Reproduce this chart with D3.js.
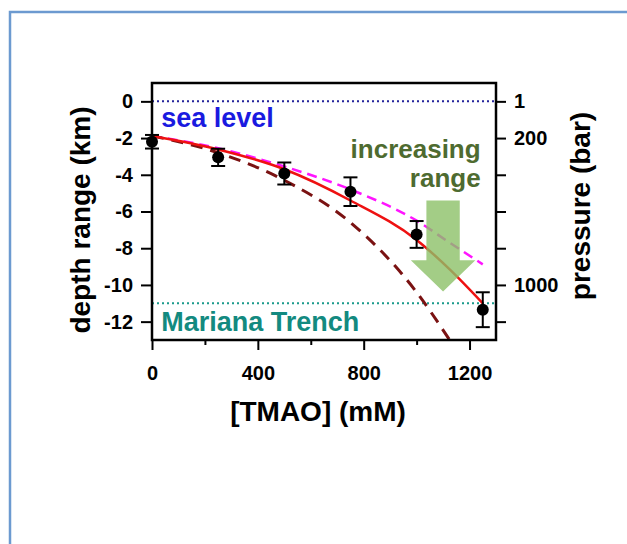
<!DOCTYPE html>
<meta charset="utf-8">
<style>
  body { margin: 0; background: #fff; }
  svg text { font-family: "Liberation Sans", Arial, Helvetica, sans-serif; font-weight: bold; }
  .axis path.domain { display: none; }
  .axis line { stroke: #000; stroke-width: 2px; }
  .axis text { font-size: 20px; fill: #000; }
</style>
<svg width="627" height="544"></svg>
<script src="https://d3js.org/d3.v7.min.js"></script>
<script>
  // measured points (mean +/- error)
  var tmao = [0, 250, 500, 750, 1000, 1250];
  var depthMean = [-2.2, -3.05, -3.93, -4.92, -7.25, -11.35];
  var depthErr = [0.37, 0.47, 0.6, 0.78, 0.73, 0.95];

  // fitted curves
  var fitX = [0, 250, 500, 750, 1000, 1125, 1250];
  var fitRed = [-1.89, -2.62, -3.7, -5.4, -7.55, -9.15, -11.0];
  var fitMagenta = [-1.88, -2.55, -3.55, -4.8, -6.5, -7.7, -8.88];
  var darkX = [0, 250, 500, 750, 1000, 1125];
  var fitDark = [-1.88, -2.8, -4.3, -6.6, -10.4, -13.0];

  // axes
  var xTicks = [0, 400, 800, 1200];
  var xMinor = [200, 600, 1000];
  var yTicks = [0, -2, -4, -6, -8, -10, -12];
  var pressureLabels = ["1", "200", "", "", "", "1000", ""];

  // reference depths
  var seaLevel = 0;
  var trench = -11;

  var svg = d3.select("svg");

  // page frame
  svg.append("rect")
    .attr("x", 10).attr("y", 12)
    .attr("width", 640).attr("height", 560)
    .attr("fill", "none")
    .attr("stroke", "#6c9ad0")
    .attr("stroke-width", 2.5);

  var x = d3.scaleLinear().domain([0, 1300]).range([152, 496]);
  var y = d3.scaleLinear().domain([-13, 1]).range([340, 83]);

  svg.append("defs").append("clipPath").attr("id", "plot")
    .append("rect")
    .attr("x", x(0)).attr("y", y(1))
    .attr("width", x(1300) - x(0)).attr("height", y(-13) - y(1));

  // reference lines
  svg.append("line")
    .attr("x1", x(0)).attr("x2", x(1300))
    .attr("y1", y(seaLevel)).attr("y2", y(seaLevel))
    .attr("stroke", "#23239a").attr("stroke-width", 2)
    .attr("stroke-dasharray", "2,3");

  svg.append("line")
    .attr("x1", x(0)).attr("x2", x(1300))
    .attr("y1", y(trench)).attr("y2", y(trench))
    .attr("stroke", "#1a9a8c").attr("stroke-width", 2)
    .attr("stroke-dasharray", "2,3");

  var curves = svg.append("g").attr("clip-path", "url(#plot)");

  function curve(xs, ys) {
    return d3.line()
      .x(function(d, i) { return x(xs[i]); })
      .y(function(d) { return y(d); })
      .curve(d3.curveMonotoneX)(ys);
  }

  curves.append("path")
    .attr("d", curve(fitX, fitMagenta))
    .attr("fill", "none")
    .attr("stroke", "#ff14ff")
    .attr("stroke-width", 2.5)
    .attr("stroke-dasharray", "10,6");

  curves.append("path")
    .attr("d", curve(darkX, fitDark))
    .attr("fill", "none")
    .attr("stroke", "#7a1212")
    .attr("stroke-width", 3)
    .attr("stroke-dasharray", "12,8");

  curves.append("path")
    .attr("d", curve(fitX, fitRed))
    .attr("fill", "none")
    .attr("stroke", "#ee1111")
    .attr("stroke-width", 2.5);

  // error bars + points
  var pts = svg.append("g").selectAll("g")
    .data(tmao)
    .enter().append("g");

  pts.append("line")
    .attr("x1", function(d) { return x(d); })
    .attr("x2", function(d) { return x(d); })
    .attr("y1", function(d, i) { return y(depthMean[i] + depthErr[i]); })
    .attr("y2", function(d, i) { return y(depthMean[i] - depthErr[i]); })
    .attr("stroke", "#000").attr("stroke-width", 2);

  [1, -1].forEach(function(s) {
    pts.append("line")
      .attr("x1", function(d) { return x(d) - 7; })
      .attr("x2", function(d) { return x(d) + 7; })
      .attr("y1", function(d, i) { return y(depthMean[i] + s * depthErr[i]); })
      .attr("y2", function(d, i) { return y(depthMean[i] + s * depthErr[i]); })
      .attr("stroke", "#000").attr("stroke-width", 2);
  });

  pts.append("circle")
    .attr("cx", function(d) { return x(d); })
    .attr("cy", function(d, i) { return y(depthMean[i]); })
    .attr("r", 6)
    .attr("fill", "#000");

  // "increasing range" arrow (data coords)
  var arrowX = 1100, shaftHalf = 63, headHalf = 122;
  var arrowTop = -5.4, headBase = -8.65, arrowTip = -10.36;
  var arrowPts = [
    [arrowX - shaftHalf, arrowTop], [arrowX + shaftHalf, arrowTop],
    [arrowX + shaftHalf, headBase], [arrowX + headHalf, headBase],
    [arrowX, arrowTip],
    [arrowX - headHalf, headBase], [arrowX - shaftHalf, headBase]
  ];
  svg.append("path")
    .attr("d", d3.line().x(function(d) { return x(d[0]); }).y(function(d) { return y(d[1]); })(arrowPts) + "Z")
    .attr("fill", "#8cc068")
    .attr("opacity", 0.8);

  // frame
  svg.append("rect")
    .attr("x", x(0)).attr("y", y(1))
    .attr("width", x(1300) - x(0)).attr("height", y(-13) - y(1))
    .attr("fill", "none").attr("stroke", "#000").attr("stroke-width", 2.5);

  // axes
  svg.append("g").attr("class", "axis")
    .attr("transform", "translate(" + x(0) + ",0)")
    .call(d3.axisLeft(y).tickValues(yTicks).tickSize(11).tickPadding(8)
      .tickFormat(function(d) { return d === 0 ? "0" : "-" + Math.abs(d); }));

  svg.append("g").attr("class", "axis")
    .attr("transform", "translate(" + x(1300) + ",0)")
    .call(d3.axisRight(y).tickValues(yTicks).tickSize(10).tickPadding(8)
      .tickFormat(function(d, i) { return pressureLabels[i]; }));

  svg.append("g").attr("class", "axis")
    .attr("transform", "translate(0," + y(-13) + ")")
    .call(d3.axisBottom(x).tickValues(xTicks).tickSize(10).tickPadding(16)
      .tickFormat(d3.format("d")));

  svg.append("g").attr("class", "axis")
    .attr("transform", "translate(0," + y(-13) + ")")
    .call(d3.axisBottom(x).tickValues(xMinor).tickSize(5).tickFormat(""));

  // axis titles
  svg.append("text")
    .attr("transform", "translate(80,220) rotate(-90)")
    .attr("text-anchor", "middle").attr("dy", "0.35em")
    .style("font-size", "28px")
    .text("depth range (km)");

  svg.append("text")
    .attr("transform", "translate(580,206) rotate(-90)")
    .attr("text-anchor", "middle").attr("dy", "0.35em")
    .style("font-size", "28px")
    .text("pressure (bar)");

  svg.append("text")
    .attr("x", 318).attr("y", 421)
    .attr("text-anchor", "middle")
    .style("font-size", "28px")
    .text("[TMAO] (mM)");

  // annotations
  svg.append("text")
    .attr("x", x(35)).attr("y", y(-1.38))
    .style("font-size", "27px").attr("fill", "#1a1ae0")
    .text("sea level");

  svg.append("text")
    .attr("x", x(35)).attr("y", y(-12.5))
    .style("font-size", "27px").attr("fill", "#138a80")
    .text("Mariana Trench");

  svg.append("text")
    .attr("x", x(1242)).attr("y", y(-3.1))
    .attr("text-anchor", "end")
    .style("font-size", "26px").attr("fill", "#4e6b30")
    .text("increasing");

  svg.append("text")
    .attr("x", x(1242)).attr("y", y(-4.68))
    .attr("text-anchor", "end")
    .style("font-size", "26px").attr("fill", "#4e6b30")
    .text("range");
</script>
